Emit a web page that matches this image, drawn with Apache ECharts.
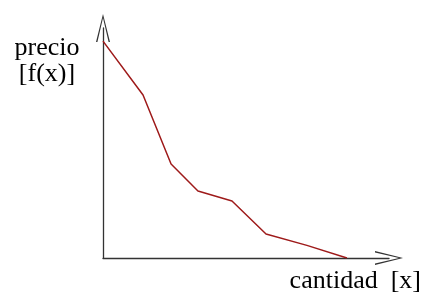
<!DOCTYPE html>
<html>
<head>
<meta charset="utf-8">
<script src="https://cdn.jsdelivr.net/npm/echarts@6/dist/echarts.min.js"></script>
<style>
  html, body { margin: 0; padding: 0; background: #fff; }
  #chart { width: 423px; height: 295px; }
</style>
</head>
<body>
<div id="chart"></div>
<script>
// curva de demanda: cantidad (x) contra precio f(x)
const cantidad = [0, 1.4, 2.38, 3.32, 4.51, 5.7, 7.13, 8.53];
const precio = [9.43, 7.09, 4.09, 2.91, 2.48, 1.04, 0.55, 0];

const chart = echarts.init(document.getElementById('chart'));

// flecha abierta (como un "V"), apunta hacia arriba antes de rotar
const arrow = 'path://M7,0 L14,28 L12.6,28 L7,4 L1.4,28 L0,28 Z';

chart.setOption({
  animation: false,
  grid: {
    left: 103,
    right: 34,
    top: 28,
    bottom: 37
  },
  xAxis: {
    type: 'value',
    min: 0,
    max: 10,
    axisLine: {
      lineStyle: { color: '#333', width: 1.3 },
      symbol: ['none', arrow],
      symbolSize: [14, 28]
    },
    axisTick: { show: false },
    axisLabel: { show: false },
    splitLine: { show: false }
  },
  yAxis: {
    type: 'value',
    min: 0,
    max: 10,
    axisLine: {
      show: true,
      lineStyle: { color: '#333', width: 1.3 },
      symbol: ['none', arrow],
      symbolSize: [14, 28]
    },
    axisTick: { show: false },
    axisLabel: { show: false },
    splitLine: { show: false }
  },
  graphic: [
    {
      type: 'text',
      x: 47,
      y: 35,
      style: {
        text: 'precio\n[f(x)]',
        font: '26px "Liberation Serif", serif',
        fill: '#000',
        align: 'center',
        verticalAlign: 'top',
        lineHeight: 26
      }
    },
    {
      type: 'text',
      x: 421,
      y: 268,
      style: {
        text: 'cantidad  [x]',
        font: '26px "Liberation Serif", serif',
        fill: '#000',
        align: 'right',
        verticalAlign: 'top'
      }
    }
  ],
  series: [{
    type: 'line',
    data: cantidad.map((c, i) => [c, precio[i]]),
    symbol: 'none',
    lineStyle: { color: '#9e1a1a', width: 1.5 }
  }]
});
</script>
</body>
</html>
